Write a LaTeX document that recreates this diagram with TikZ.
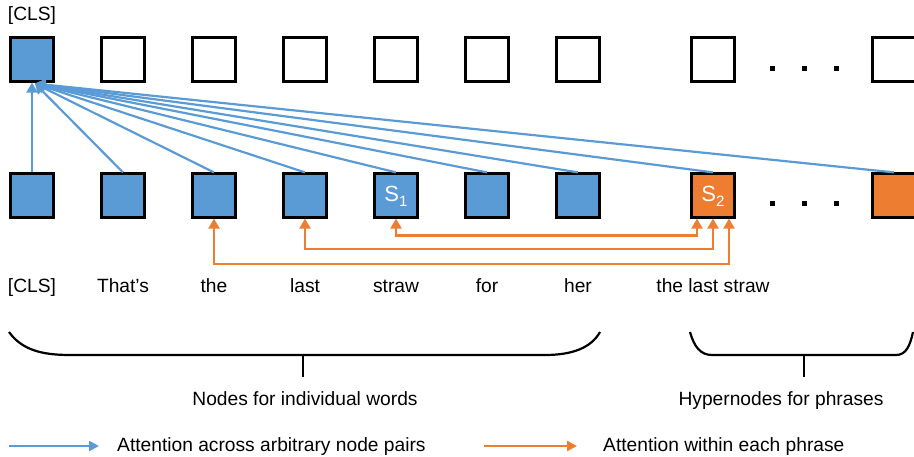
\documentclass[tikz,border=0pt]{standalone}
\usepackage{fontspec}
\setmainfont{Liberation Sans}
\usetikzlibrary{arrows.meta,calc}
\definecolor{myblue}{HTML}{5B9BD5}
\definecolor{myorange}{HTML}{ED7D31}
\begin{document}
\begin{tikzpicture}[x=1pt,y=-1pt,
  box/.style={draw=black,line width=2.7pt,minimum size=43.5pt,inner sep=0pt},
  emptybox/.style={box,fill=white},
  bluebox/.style={box,fill=myblue},
  orangebox/.style={box,fill=myorange},
  txt/.style={anchor=base,inner sep=0pt,font=\fontsize{19.2}{21}\selectfont},
  boxlabel/.style={text=white,font=\fontsize{22}{24}\selectfont},
  bluearrow/.style={draw=myblue,line width=2.2pt,-{Triangle[width=11pt,length=10pt]}},
  orangearrow/.style={draw=myorange,line width=2.3pt,{Triangle[width=11pt,length=10pt]}-{Triangle[width=11pt,length=10pt]}},
  bracepath/.style={draw=black,line width=2.2pt},
  dotmark/.style={fill=black,minimum size=5pt,inner sep=0pt},
]
\useasboundingbox (0,0) rectangle (914,457);
% top row
\node[bluebox]  (c0) at (32,59.5) {};
\node[emptybox] (c1) at (123,59.5) {};
\node[emptybox] (c2) at (214,59.5) {};
\node[emptybox] (c3) at (305,59.5) {};
\node[emptybox] (c4) at (396,59.5) {};
\node[emptybox] (c5) at (487,59.5) {};
\node[emptybox] (c6) at (578,59.5) {};
\node[emptybox] (c7) at (713,59.5) {};
\node[emptybox] (c8) at (894,59.5) {};
\node[dotmark] (td1) at (772,69) {};
\node[dotmark] (td2) at (804,69) {};
\node[dotmark] (td3) at (836,69) {};
% bottom row
\node[bluebox] (w0) at (32,195.5) {};
\node[bluebox] (w1) at (123,195.5) {};
\node[bluebox] (w2) at (214,195.5) {};
\node[bluebox] (w3) at (305,195.5) {};
\node[bluebox] (s1) at (396,195.5) {};
\node[boxlabel] (s1l) at (396,196) {S\raisebox{-5pt}{\fontsize{15}{16}\selectfont 1}};
\node[bluebox] (w5) at (487,195.5) {};
\node[bluebox] (w6) at (578,195.5) {};
\node[orangebox] (s2) at (713,195.5) {};
\node[boxlabel] (s2l) at (713,196) {S\raisebox{-5pt}{\fontsize{15}{16}\selectfont 2}};
\node[orangebox] (h2) at (894,195.5) {};
\node[dotmark] (bd1) at (772,204) {};
\node[dotmark] (bd2) at (804,204) {};
\node[dotmark] (bd3) at (836,204) {};
% labels
\node[txt] (clsl) at (32,21) {[CLS]};
\node[txt] (t0) at (32,293) {[CLS]};
\node[txt] (t1) at (123,293) {That’s};
\node[txt] (t2) at (214,293) {the};
\node[txt] (t3) at (305,293) {last};
\node[txt] (t4) at (396,293) {straw};
\node[txt] (t5) at (487,293) {for};
\node[txt] (t6) at (578,293) {her};
\node[txt] (t7) at (713,293) {the last straw};
% blue arrows to CLS
\coordinate (hub) at ($(c0.south)+(3,1)$);
\draw[bluearrow] (w0.north) -- (c0.south);
\foreach \n in {w1,w2,w3,s1,w5,w6,s2,h2}{
  \draw[bluearrow] (\n.north) -- (hub);
}
% orange arrows
\draw[orangearrow] (s1.south) -- ++(0,17) -| ($(s2.south)+(-16,0)$);
\draw[orangearrow] (w3.south) -- ++(0,30.5) -| (s2.south);
\draw[orangearrow] (w2.south) -- ++(0,45.5) -| ($(s2.south)+(16,0)$);
% braces
\draw[bracepath] (9,332) .. controls (22,350) and (42,355) .. (70,355) -- (545,355)
  .. controls (572,355) and (591,348) .. (600,332);
\coordinate (b1) at (303,355);
\draw[bracepath] (b1) -- ++(0,22);
\draw[bracepath] (690,332) .. controls (694,346) and (700,355) .. (712,355) -- (896,355)
  .. controls (906,355) and (910,346) .. (913,332);
\coordinate (b2) at (804,355);
\draw[bracepath] (b2) -- ++(0,22);
\node[txt] (nl) at (305,406) {Nodes for individual words};
\node[txt] (hl) at (781,406) {Hypernodes for phrases};
% legend
\coordinate (la1) at (9,446);
\coordinate (la2) at (99,446);
\draw[draw=myblue,line width=2.2pt,-{Triangle[width=10pt,length=10pt]}] (la1) -- (la2);
\node[txt,anchor=base west] (lt1) at (117,451) {Attention across arbitrary node pairs};
\coordinate (lb1) at (484,446);
\coordinate (lb2) at (577,446);
\draw[draw=myorange,line width=2.2pt,-{Triangle[width=10pt,length=10pt]}] (lb1) -- (lb2);
\node[txt,anchor=base west] (lt2) at (603,451) {Attention within each phrase};
\end{tikzpicture}
\end{document}
